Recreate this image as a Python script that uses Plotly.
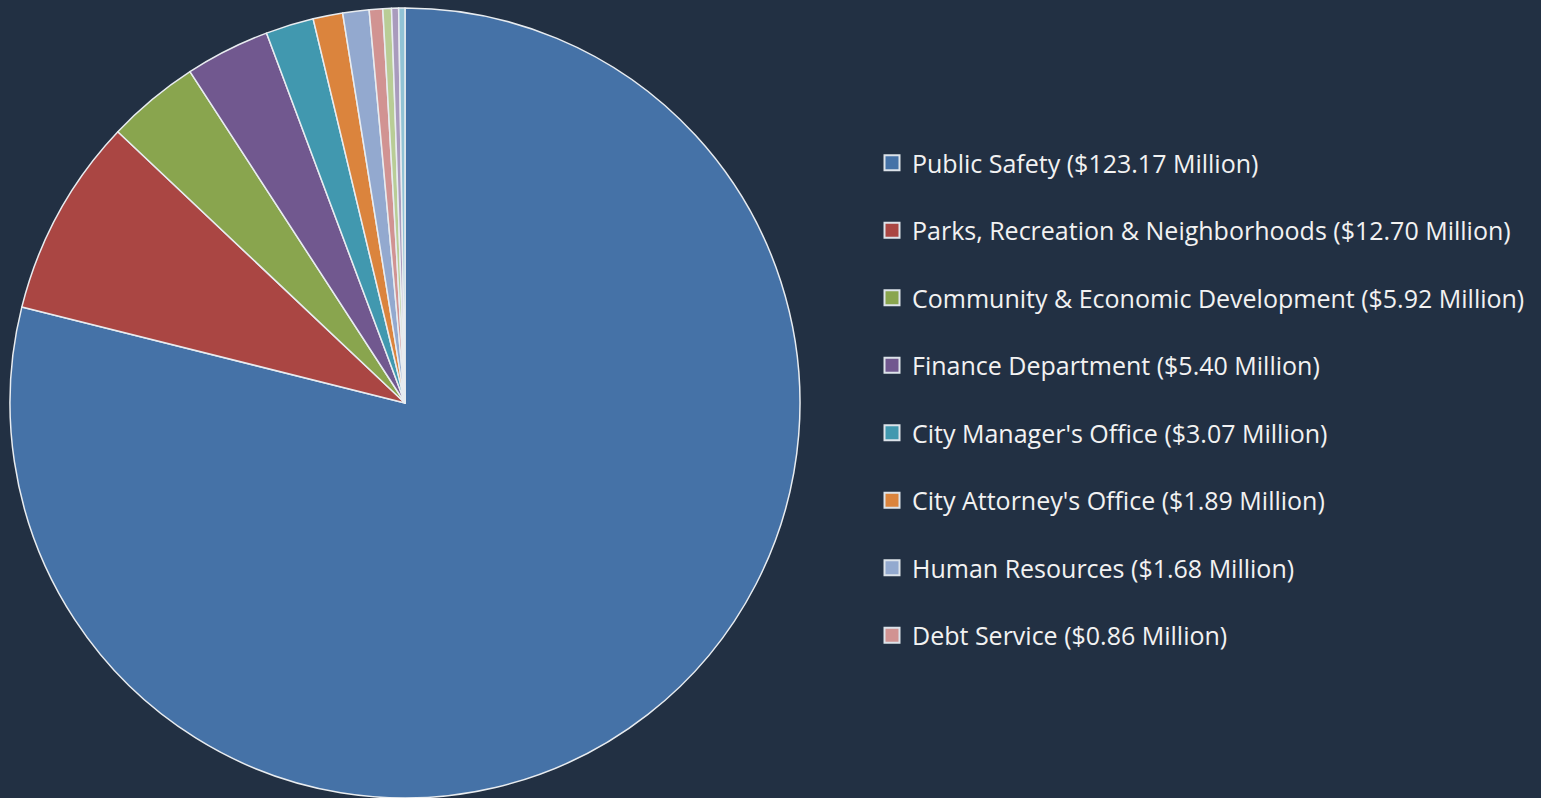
import plotly.graph_objects as go

BG = "#223043"

labels = [
    "Public Safety ($123.17 Million)",
    "Parks, Recreation & Neighborhoods ($12.70 Million)",
    "Community & Economic Development ($5.92 Million)",
    "Finance Department ($5.40 Million)",
    "City Manager's Office ($3.07 Million)",
    "City Attorney's Office ($1.89 Million)",
    "Human Resources ($1.68 Million)",
    "Debt Service ($0.86 Million)",
    "Other A",
    "Other B",
    "Other C",
]
values = [123.17, 12.70, 5.92, 5.40, 3.07, 1.89, 1.68, 0.86, 0.55, 0.45, 0.40]
colors = ["#4572A7", "#AA4643", "#89A54E", "#71588F", "#4198AF", "#DB843D",
          "#93A9CF", "#D19392", "#B9CD96", "#A99BBD", "#91C3D5"]
n_legend = 8

fig = go.Figure()

fig.add_trace(go.Pie(
    labels=labels,
    values=values,
    marker=dict(colors=colors, line=dict(color="#E8ECF0", width=1.5)),
    sort=False,
    direction="clockwise",
    rotation=0,
    textinfo="none",
    hoverinfo="label+percent",
    showlegend=False,
    domain=dict(x=[10 / 1541, 800 / 1541], y=[0, 790 / 798]),
))

# legend entries only for the named departments
for i in range(n_legend):
    fig.add_trace(go.Scatter(
        x=[None], y=[None],
        mode="markers",
        name=labels[i],
        legendgroup=f"g{i}",
        marker=dict(symbol="square", size=15, color=colors[i],
                    line=dict(color="#DDE3EA", width=2)),
    ))

fig.update_layout(
    width=1541,
    height=798,
    paper_bgcolor=BG,
    plot_bgcolor=BG,
    margin=dict(l=0, r=0, t=0, b=0),
    xaxis=dict(visible=False),
    yaxis=dict(visible=False),
    font=dict(family="Open Sans, sans-serif", color="#F2F2F2", size=25),
    legend=dict(
        x=872 / 1541, y=0.5, xanchor="left", yanchor="middle",
        bgcolor="rgba(0,0,0,0)",
        traceorder="grouped",
        tracegroupgap=32,
        font=dict(size=25, color="#F2F2F2"),
    ),
)

fig.write_html("out.html", config={"displayModeBar": False},
               post_script="document.body.style.margin='0';")
